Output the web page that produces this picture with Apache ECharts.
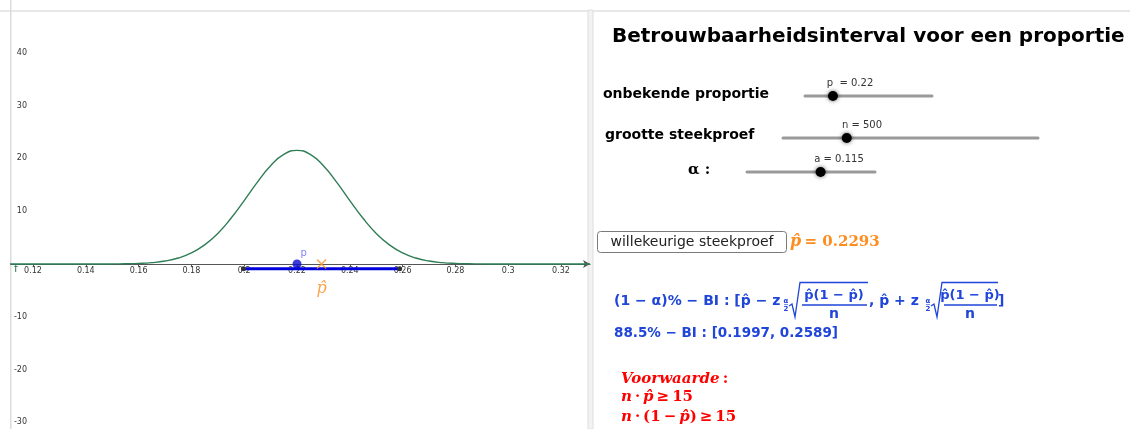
<!DOCTYPE html>
<html>
<head>
<meta charset="utf-8">
<script src="https://cdn.jsdelivr.net/npm/echarts@6.0.0/dist/echarts.min.js"></script>
<style>
  html, body { margin: 0; padding: 0; background: #fff; }
  #chart { width: 1130px; height: 429px; }
</style>
</head>
<body>
<div id="chart"></div>
<script>
// normale verdeling van p-hoed
const curveX = [0.111, 0.12, 0.13, 0.14, 0.145, 0.15, 0.155, 0.16, 0.165, 0.17, 0.175, 0.18, 0.185, 0.19, 0.195,
  0.2, 0.205, 0.21, 0.215, 0.22, 0.225, 0.23, 0.235, 0.24, 0.245, 0.25, 0.255, 0.26, 0.265, 0.27, 0.275,
  0.28, 0.285, 0.29, 0.295, 0.3, 0.31, 0.32, 0.331];
const curveY = [0, 0, 0, 0, 0.005, 0.02, 0.05, 0.11, 0.26, 0.56, 1.13, 2.09, 3.62, 5.8, 8.67,
  12.02, 15.51, 18.61, 20.76, 21.53, 20.76, 18.61, 15.51, 12.02, 8.67, 5.8, 3.62, 2.09, 1.13, 0.56, 0.26,
  0.11, 0.05, 0.02, 0.005, 0, 0, 0, 0];
const xTicks = [0.12, 0.14, 0.16, 0.18, 0.2, 0.22, 0.24, 0.26, 0.28, 0.3, 0.32];
const yTicks = [-30, -20, -10, 10, 20, 30, 40];
const pTrue = 0.22;
const pHat = 0.2293;
const ciBounds = [0.1997, 0.2589];
const ciY = -0.9;
// schuifregelaars: waarde en bereik
const sliderValues = [0.22, 500, 0.115];
const sliderMax = [1, 2000, 0.2];

const chart = echarts.init(document.getElementById('chart'), null, { renderer: 'canvas' });

const blue = '#1f45d9';
const red = '#ff0000';
const orange = '#ff8c1e';
const sans = 'DejaVu Sans';
const thin = '\u2009';

// slider geometrie (pixels)
const sliders = [
  { x0: 805, x1: 932, y: 96, labelX: 850, label: 'p  = ' + sliderValues[0] },
  { x0: 783, x1: 1038, y: 138, labelX: 862, label: 'n = ' + sliderValues[1] },
  { x0: 747, x1: 875, y: 172, labelX: 839, label: 'a = ' + sliderValues[2] }
];

const graphics = [];
// randen van het venster
graphics.push({ type: 'rect', shape: { x: 0, y: 10, width: 1130, height: 2 }, style: { fill: '#e8e8e8' }, silent: true });
graphics.push({ type: 'rect', shape: { x: 10, y: 0, width: 1.5, height: 429 }, style: { fill: '#dcdcdc' }, silent: true });
graphics.push({ type: 'rect', shape: { x: 588, y: 10, width: 5, height: 419 }, style: { fill: '#f2f2f2', stroke: '#dedede', lineWidth: 1 }, silent: true });

// titel
graphics.push({ type: 'text', x: 612, y: 37, style: { text: 'Betrouwbaarheidsinterval voor een proportie', font: 'bold 20px ' + sans, fill: '#000', textAlign: 'left', textVerticalAlign: 'middle' } });
graphics.push({ type: 'text', x: 603, y: 94, style: { text: 'onbekende proportie', font: 'bold 14px ' + sans, fill: '#000', textAlign: 'left', textVerticalAlign: 'middle' } });
graphics.push({ type: 'text', x: 605, y: 135, style: { text: 'grootte steekproef', font: 'bold 14px ' + sans, fill: '#000', textAlign: 'left', textVerticalAlign: 'middle' } });
graphics.push({ type: 'text', x: 688, y: 170, style: { text: 'α :', font: 'bold 15px DejaVu Serif', fill: '#000', textAlign: 'left', textVerticalAlign: 'middle' } });

sliders.forEach(function (s, i) {
  const kx = s.x0 + (s.x1 - s.x0) * sliderValues[i] / sliderMax[i];
  graphics.push({ type: 'line', shape: { x1: s.x0, y1: s.y, x2: s.x1, y2: s.y }, style: { stroke: '#9a9a9a', lineWidth: 3, lineCap: 'round' } });
  graphics.push({ type: 'circle', shape: { cx: kx, cy: s.y, r: 5 }, style: { fill: '#000', shadowBlur: 4, shadowColor: 'rgba(0,0,0,0.6)' } });
  graphics.push({ type: 'text', x: s.labelX, y: s.y - 13, style: { text: s.label, font: '10px ' + sans, fill: '#333', textAlign: 'center', textVerticalAlign: 'middle' } });
});

// knop + p-hoed
graphics.push({ type: 'rect', shape: { x: 597.5, y: 231.5, width: 189, height: 21, r: 3 }, style: { fill: '#fff', stroke: '#7a7a7a', lineWidth: 1 } });
graphics.push({ type: 'text', x: 692, y: 242, style: { text: 'willekeurige steekproef', font: '14px ' + sans, fill: '#222', textAlign: 'center', textVerticalAlign: 'middle' } });
graphics.push({ type: 'text', x: 790, y: 242, style: {
  text: '{i|p\u0302} {b|= ' + pHat + '}', textAlign: 'left', textVerticalAlign: 'middle',
  rich: { i: { font: 'italic bold 16px DejaVu Serif', fill: orange }, b: { font: 'bold 15px DejaVu Serif', fill: orange } } } });

// formule betrouwbaarheidsinterval
const fb = 'bold 14px ' + sans;
const fn = 'bold 13px ' + sans;
function txt(x, y, t, font, align) {
  graphics.push({ type: 'text', x: x, y: y, style: { text: t, font: font || fb, fill: blue, textAlign: align || 'left', textVerticalAlign: 'middle' } });
}
function sqrtFrac(xs, xe) {
  const cx = (xs + 11 + xe) / 2;
  // subscript alpha/2
  txt(xs - 3, 301, 'α', 'bold 7px ' + sans, 'center');
  graphics.push({ type: 'line', shape: { x1: xs - 5, y1: 304.5, x2: xs - 1, y2: 304.5 }, style: { stroke: blue, lineWidth: 0.6 } });
  txt(xs - 3, 309, '2', 'bold 7px ' + sans, 'center');
  graphics.push({ type: 'polyline', shape: { points: [[xs, 306], [xs + 3, 304], [xs + 6, 317], [xs + 11, 282.5], [xe, 282.5]] }, style: { stroke: blue, lineWidth: 1.3, fill: null } });
  txt(cx, 296, 'p\u0302(1 − p\u0302)', fn, 'center');
  graphics.push({ type: 'line', shape: { x1: xs + 13, y1: 305, x2: xe - 1, y2: 305 }, style: { stroke: blue, lineWidth: 1.3 } });
  txt(cx, 314, 'n', fb, 'center');
}
txt(614, 301, '(1 − α)% − BI : [p\u0302 − z');
sqrtFrac(789, 868);
txt(869, 301, ', p\u0302 + z');
sqrtFrac(931, 998);
txt(998, 301, ']');
txt(614, 333, (1 - sliderValues[2]) * 100 + '% − BI : [' + ciBounds[0] + ', ' + ciBounds[1] + ']', 'bold 13.5px ' + sans);

// voorwaarden
const redRich = { i: { font: 'italic bold 15px DejaVu Serif', fill: red }, b: { font: 'bold 15px DejaVu Serif', fill: red } };
graphics.push({ type: 'text', x: 621, y: 379, style: { text: '{i|Voorwaarde} {b|:}', rich: redRich, textAlign: 'left', textVerticalAlign: 'middle' } });
graphics.push({ type: 'text', x: 621, y: 397, style: { text: '{i|n}{b|' + thin + '·' + thin + '}{i|p\u0302}{b|' + thin + '≥' + thin + '15}', rich: redRich, textAlign: 'left', textVerticalAlign: 'middle' } });
graphics.push({ type: 'text', x: 621, y: 417, style: { text: '{i|n}{b|' + thin + '·' + thin + '(1' + thin + '−' + thin + '}{i|p\u0302}{b|)' + thin + '≥' + thin + '15}', rich: redRich, textAlign: 'left', textVerticalAlign: 'middle' } });

// functielabel f
graphics.push({ type: 'text', x: 14, y: 269, style: { text: 'f', font: '11px ' + sans, fill: '#2e7d55', textAlign: 'left', textVerticalAlign: 'middle' } });

const option = {
  animation: false,
  backgroundColor: '#fff',
  grid: { left: 11, right: 540, top: 12, bottom: 0, outerBoundsMode: 'none', containLabel: false },
  xAxis: {
    type: 'value',
    min: 0.11167,
    max: 0.33098,
    offset: -165,
    axisLine: { onZero: false, lineStyle: { color: '#555', width: 1 }, symbol: ['none', 'arrow'], symbolSize: [6, 7] },
    axisTick: { show: true, length: 2, lineStyle: { color: '#555' }, customValues: xTicks },
    axisLabel: { fontSize: 8, color: '#333', fontFamily: sans, margin: 3, customValues: xTicks },
    splitLine: { show: false }
  },
  yAxis: {
    type: 'value',
    min: -31.25,
    max: 47.73,
    axisLine: { show: false },
    axisTick: { show: false },
    axisLabel: { inside: true, align: 'right', margin: 16, fontSize: 8, color: '#333', fontFamily: sans, customValues: yTicks },
    splitLine: { show: false }
  },
  series: [
    {
      name: 'f', type: 'line', smooth: true, showSymbol: false,
      data: curveX.map(function (x, i) { return [x, curveY[i]]; }),
      lineStyle: { color: '#2e7d55', width: 1.4 }, z: 3
    },
    {
      name: 'BI', type: 'line', showSymbol: true, symbol: 'circle', symbolSize: 5,
      data: [[ciBounds[0], ciY], [ciBounds[1], ciY]],
      lineStyle: { color: '#0000dd', width: 3 }, itemStyle: { color: '#333' }, z: 4
    },
    {
      name: 'p', type: 'scatter', symbolSize: 9, data: [[pTrue, 0]],
      itemStyle: { color: '#0a0ad0' },
      label: { show: true, formatter: 'p', position: [8, -11], color: '#6464ff', fontSize: 10, fontFamily: sans }, z: 5
    },
    {
      name: 'phat', type: 'scatter', symbolSize: 10, data: [[pHat, 0]],
      symbol: 'path://M1,0L5,4L9,0L10,1L6,5L10,9L9,10L5,6L1,10L0,9L4,5L0,1Z',
      itemStyle: { color: orange },
      label: { show: true, formatter: 'p\u0302', position: 'bottom', distance: 12, color: orange, fontSize: 16, fontStyle: 'italic', fontFamily: 'DejaVu Serif' }, z: 5
    }
  ],
  graphic: { elements: graphics }
};
chart.setOption(option);
</script>
</body>
</html>
